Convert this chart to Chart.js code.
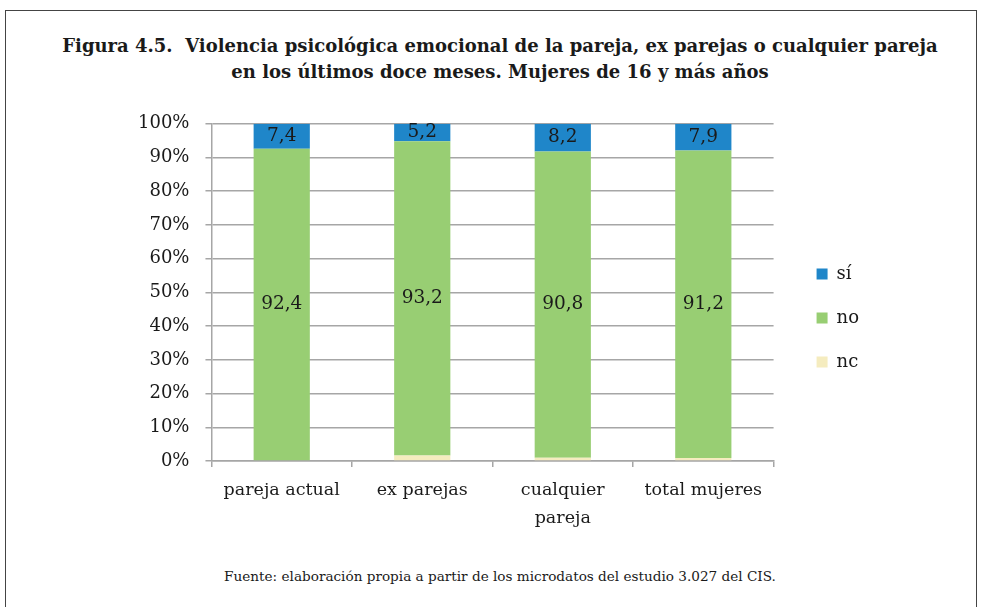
<!DOCTYPE html>
<html>
<head>
<meta charset="utf-8">
<script src="https://cdn.jsdelivr.net/npm/chart.js@4"></script>
<style>
  html, body { margin:0; padding:0; background:#fff; width:982px; height:607px; overflow:hidden; }
  .frame { position:absolute; left:5px; top:10px; width:970px; height:640px; border:1px solid #444; }
  .title { position:absolute; left:0; top:33px; width:1000px; text-align:center; font-family:"DejaVu Serif", serif; font-weight:bold; font-size:18px; line-height:26px; color:#1a1a1a; }
  .source { position:absolute; left:0; top:568px; width:1000px; text-align:center; font-family:"DejaVu Serif", serif; font-size:13.6px; color:#1a1a1a; }
  .wrap { position:absolute; left:100px; top:97px; width:860px; height:441px; }
</style>
</head>
<body>
<div class="frame"></div>
<div class="title">Figura 4.5.&nbsp; Violencia psicológica emocional de la pareja, ex parejas o cualquier pareja<br>en los últimos doce meses. Mujeres de 16 y más años</div>
<div class="source">Fuente: elaboración propia a partir de los microdatos del estudio 3.027 del CIS.</div>
<div class="wrap"><canvas id="c"></canvas></div>
<script>
const categories = ['pareja actual', 'ex parejas', ['cualquier', 'pareja'], 'total mujeres'];
const siValues = [7.4, 5.2, 8.2, 7.9];
const noValues = [92.4, 93.2, 90.8, 91.2];
const ncValues = [0.2, 1.6, 1.0, 0.9];
const yTicks = [0, 10, 20, 30, 40, 50, 60, 70, 80, 90, 100];

const FONT = '"DejaVu Serif", serif';
const GRID = '#a6a6a6';

const labelPlugin = {
  id: 'valueLabels',
  afterDatasetsDraw(chart) {
    const ctx = chart.ctx;
    ctx.save();
    ctx.font = '18.5px ' + FONT;
    ctx.fillStyle = '#1a1a1a';
    ctx.textAlign = 'center';
    ctx.textBaseline = 'middle';
    chart.data.datasets.forEach((ds, di) => {
      if (!ds.showLabel) return;
      const meta = chart.getDatasetMeta(di);
      meta.data.forEach((el, i) => {
        const v = ds.data[i];
        const y = (el.y + el.base) / 2;
        ctx.fillText(v.toFixed(1).replace('.', ','), el.x, y);
      });
    });
    ctx.restore();
  }
};

new Chart(document.getElementById('c'), {
  type: 'bar',
  data: {
    labels: categories,
    datasets: [
      { label: 'nc', data: ncValues, backgroundColor: '#f5ecbf', showLabel: false },
      { label: 'no', data: noValues, backgroundColor: '#98ce73', showLabel: true },
      { label: 'sí', data: siValues, backgroundColor: '#1f86c9', showLabel: true }
    ]
  },
  options: {
    responsive: true,
    maintainAspectRatio: false,
    animation: false,
    devicePixelRatio: 1,
    layout: { padding: { top: 8, right: 91, bottom: 7, left: 22 } },
    datasets: { bar: { barPercentage: 0.4, categoryPercentage: 1.0 } },
    scales: {
      x: {
        stacked: true,
        grid: { display: true, offset: true, drawOnChartArea: false, drawTicks: true, tickLength: 6, color: GRID, lineWidth: 1.5 },
        border: { color: GRID, width: 1.5 },
        ticks: { font: { family: FONT, size: 17.5, lineHeight: 1.6 }, color: '#1a1a1a', padding: 9, maxRotation: 0 },
        afterFit(axis) { axis.height = 70; }
      },
      y: {
        stacked: true,
        min: 0, max: 100,
        afterBuildTicks(axis) { axis.ticks = yTicks.map(v => ({ value: v })); },
        grid: { color: GRID, lineWidth: 1.5, tickLength: 6 },
        border: { color: GRID, width: 1.5 },
        ticks: { font: { family: FONT, size: 18 }, color: '#1a1a1a', padding: 16, callback: v => v + '%' }
      },
      gap: {
        type: 'linear',
        position: 'right',
        display: true,
        grid: { display: false },
        border: { display: false },
        ticks: { display: false },
        afterFit(axis) { axis.width = 17; }
      }
    },
    plugins: {
      legend: {
        position: 'right',
        reverse: true,
        labels: { font: { family: FONT, size: 18 }, color: '#1a1a1a', boxWidth: 11, boxHeight: 11, padding: 26, useBorderRadius: false }
      },
      tooltip: { enabled: false }
    }
  },
  plugins: [labelPlugin]
});
</script>
</body>
</html>
